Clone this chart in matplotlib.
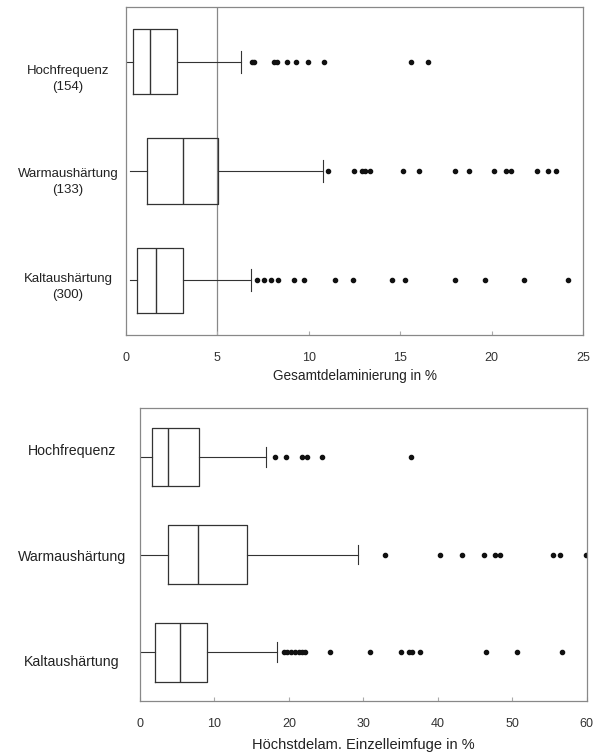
import matplotlib.pyplot as plt
import matplotlib.transforms as mtransforms

plt.rcParams['font.family'] = ['Liberation Sans', 'DejaVu Sans']

# Gesamtdelaminierung (top panel)
groups_top = ['Hochfrequenz\n(154)', 'Warmaushärtung\n(133)', 'Kaltaushärtung\n(300)']
q1_top = [0.40, 1.13, 0.62]
med_top = [1.31, 3.13, 1.62]
q3_top = [2.77, 5.05, 3.13]
lo_top = [0.0, 0.2, 0.2]
hi_top = [6.27, 10.8, 6.84]
fliers_top = [
    [6.9, 7.0, 8.1, 8.25, 8.8, 9.3, 9.97, 10.83, 15.6, 16.5],
    [11.03, 12.47, 12.9, 13.07, 13.35, 15.13, 16.0, 18.0, 18.76, 20.13, 20.8,
     21.04, 22.5, 23.1, 23.5],
    [7.18, 7.55, 7.93, 8.33, 9.2, 9.74, 11.43, 12.4, 14.53, 15.26, 18.0, 19.64,
     21.77, 24.16],
]

# Höchstdelam. Einzelleimfuge (bottom panel)
groups_bot = ['Hochfrequenz', 'Warmaushärtung', 'Kaltaushärtung']
q1_bot = [1.57, 3.72, 2.01]
med_bot = [3.8, 7.75, 5.37]
q3_bot = [7.92, 14.41, 8.95]
lo_bot = [0.0, 0.0, 0.0]
hi_bot = [16.9, 29.33, 18.44]
fliers_bot = [
    [18.13, 19.6, 21.7, 22.4, 24.4, 36.4],
    [32.9, 40.3, 43.2, 46.2, 47.7, 48.3, 55.5, 56.4, 59.9],
    [19.3, 19.8, 20.3, 20.8, 21.3, 21.8, 22.1, 25.5, 30.9, 35.06, 36.1, 36.5,
     37.6, 46.5, 50.7, 56.7],
]

box_col = '#333333'
spine_col = '#888888'


def draw_panel(ax, labels, q1, med, q3, lo, hi, fliers, xmax, step, xlabel, fs,
               label_x, label_va, label_dy):
    stats = []
    for i in range(len(labels)):
        stats.append(dict(q1=q1[i], med=med[i], q3=q3[i],
                          whislo=lo[i], whishi=hi[i], fliers=fliers[i]))
    positions = list(range(len(labels), 0, -1))
    parts = ax.bxp(stats, positions=positions, vert=False, widths=0.6, capwidths=0.2,
                   boxprops=dict(color=box_col, linewidth=0.9),
                   medianprops=dict(color=box_col, linewidth=1.0),
                   whiskerprops=dict(color=box_col, linewidth=0.8),
                   capprops=dict(color=box_col, linewidth=0.8),
                   flierprops=dict(marker='o', markersize=3.0, markerfacecolor='#111111',
                                   markeredgecolor='#111111', linestyle='none'))
    # lower caps are not drawn in the original
    for cap in parts['caps'][0::2]:
        cap.set_visible(False)
    ax.set_xlim(0, xmax)
    ax.set_ylim(0.5, len(labels) + 0.5)
    ax.set_xticks(range(0, xmax + 1, step))
    ax.set_yticks([])
    ax.tick_params(axis='x', direction='in', length=3, color='#aaaaaa',
                   labelsize=9, pad=12, labelcolor='#333333')
    # category labels (placed a little unevenly, as in the scan)
    for lab, p, dy in zip(labels, positions, label_dy):
        trans = mtransforms.offset_copy(ax.get_yaxis_transform(), fig=ax.figure,
                                        x=0, y=dy, units='points')
        ax.text(label_x, p, lab, transform=trans, ha='center', va=label_va,
                fontsize=fs, color='#222222', linespacing=1.45)
    ax.set_xlabel(xlabel, fontsize=fs + 0.3, color='#222222', labelpad=4)
    for s in ax.spines.values():
        s.set_color(spine_col)
        s.set_linewidth(0.9)


fig = plt.figure(figsize=(5.93, 7.55), dpi=100)

ax1 = fig.add_axes([0.2125, 0.5563, 0.7707, 0.4344])
draw_panel(ax1, groups_top, q1_top, med_top, q3_top, lo_top, hi_top, fliers_top,
           25, 5, 'Gesamtdelaminierung in %', 9.5, -0.127, 'top', [-2.2, 2.1, 5])
ax1.axvline(5, color=spine_col, linewidth=0.9, zorder=0)

ax2 = fig.add_axes([0.2361, 0.0715, 0.7533, 0.3877])
draw_panel(ax2, groups_bot, q1_bot, med_bot, q3_bot, lo_bot, hi_bot, fliers_bot,
           60, 10, 'Höchstdelam. Einzelleimfuge in %', 10.2, -0.152, 'center',
           [4.3, -1.4, -7.2])
ax2.xaxis.labelpad = 6

fig.savefig('out.png', dpi=100)
